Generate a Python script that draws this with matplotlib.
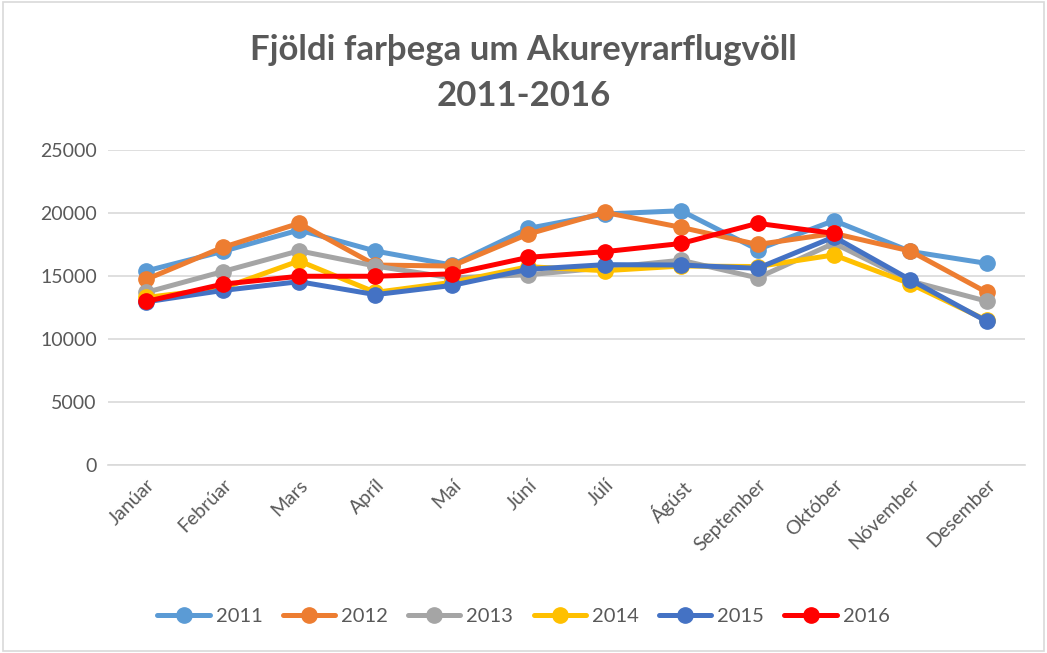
import numpy as np
import matplotlib.pyplot as plt

months = ['Janúar', 'Febrúar', 'Mars', 'Apríl', 'Maí', 'Júní', 'Júlí',
          'Ágúst', 'September', 'Október', 'Nóvember', 'Desember']
years = ['2011', '2012', '2013', '2014', '2015', '2016']

v2011 = [15400, 16950, 18650, 16980, 15870, 18780, 19920, 20180, 17100, 19400, 16950, 16000]
v2012 = [14730, 17270, 19180, 15870, 15790, 18330, 20050, 18860, 17500, 18380, 16980, 13700]
v2013 = [13700, 15350, 17000, 15790, 14850, 15100, 15650, 16250, 14850, 17600, 14600, 13000]
v2014 = [13300, 14020, 16200, 13700, 14500, 15740, 15420, 15790, 15750, 16670, 14380, 11480]
v2015 = [12950, 13850, 14550, 13520, 14250, 15530, 15900, 15870, 15610, 18100, 14700, 11400]
v2016 = [12980, 14350, 14980, 14980, 15170, 16480, 16930, 17580, 19180, 18380, np.nan, np.nan]

series = [v2011, v2012, v2013, v2014, v2015, v2016]
colors = ['#5B9BD5', '#ED7D31', '#A5A5A5', '#FFC000', '#4472C4', '#FF0000']

txt = '#595959'
plt.rcParams['font.family'] = ['Lato', 'DejaVu Sans']

fig = plt.figure(figsize=(10.47, 6.53), dpi=100)
ax = fig.add_axes([108/1047, 1 - 465/653, (1025 - 108)/1047, (465 - 150)/653])

x = np.arange(len(months))
for vals, c, lab in zip(series, colors, years):
    ax.plot(x, vals, color=c, lw=3.6, marker='o', ms=11, label=lab,
            solid_capstyle='round', solid_joinstyle='round')

ax.set_xlim(-0.5, 11.5)
ax.set_ylim(0, 25000)
ax.set_yticks(np.arange(0, 25001, 5000))
ax.grid(axis='y', color='#D9D9D9', lw=1.2)
ax.set_axisbelow(True)
for s in ['top', 'right', 'left']:
    ax.spines[s].set_visible(False)
ax.spines['bottom'].set_color('#D9D9D9')
ax.spines['bottom'].set_linewidth(1.2)
ax.tick_params(axis='both', length=0, labelsize=14, colors=txt, pad=8)
ax.set_xticks(x)
ax.set_xticklabels(months, rotation=45, ha='right', rotation_mode='anchor')

fig.text(0.5, 1 - 50/653, 'Fjöldi farþega um Akureyrarflugvöll', ha='center', va='center',
         fontsize=25, fontweight='bold', color=txt)
fig.text(0.5, 1 - 96/653, '2011-2016', ha='center', va='center',
         fontsize=25, fontweight='bold', color=txt)

fig.legend(loc='center', bbox_to_anchor=(0.5, 1 - 616/653), ncol=6, frameon=False,
           fontsize=14.5, handlelength=2.6, columnspacing=1.0, handletextpad=0.3,
           labelcolor=txt)

# chart border
fig.patches.append(plt.Rectangle((0.003, 0.003), 0.994, 0.994, transform=fig.transFigure,
                                 fill=False, edgecolor='#D9D9D9', lw=1.2))

fig.savefig('out.png', dpi=100)
